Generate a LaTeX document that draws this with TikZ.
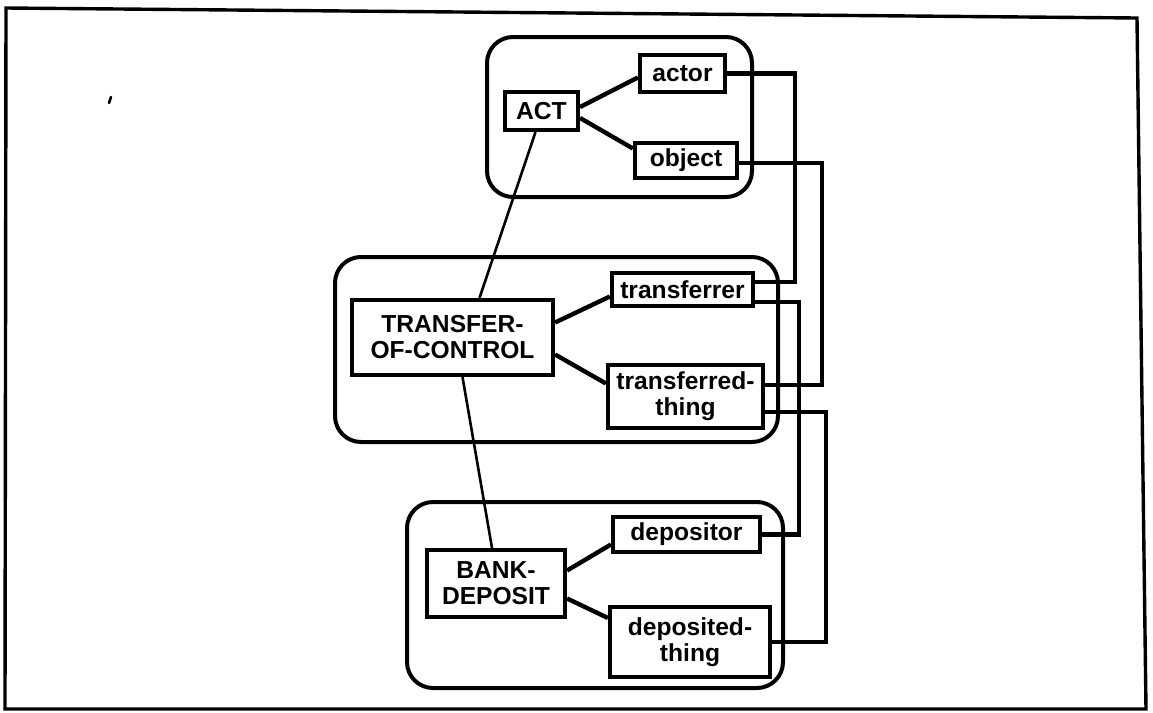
\documentclass[tikz,border=0pt]{standalone}
\usepackage{fontspec}
\setmainfont{Liberation Sans}
\usetikzlibrary{calc}
\begin{document}
\begin{tikzpicture}[x=0.5pt,y=-0.5pt,
  frameline/.style={line width=1.7pt,line join=miter},
  groupbox/.style={draw,line width=2pt,rounded corners=13pt},
  slotbox/.style={draw,line width=2.1pt,inner sep=0pt,align=center,
    font=\bfseries\fontsize{12.3}{13}\selectfont},
  link/.style={line width=2.2pt},
  isa/.style={line width=1.3pt},
  route/.style={line width=2.1pt,line join=miter}]
\useasboundingbox (0,0) rectangle (1153,713);

% outer frame
\draw[frameline] (6,8) -- (1137,18) -- (1146,709) -- (5,709) -- cycle;
\draw[line width=1.3pt,line cap=round] (109,103) -- (111,97);

% frame groups
\draw[groupbox] (487,37) rectangle (752,197);
\draw[groupbox] (335,257) rectangle (778,442);
\draw[groupbox] (407,502) rectangle (783,688);

% ACT frame
\node[slotbox,minimum width=36.5pt,minimum height=19pt] (act) at (541.5,111) {ACT};
\node[slotbox,minimum width=42.5pt,minimum height=18.5pt] (actor) at (682.5,73.5) {actor};
\node[slotbox,minimum width=51pt,minimum height=17.5pt] (object) at (686,160.5) {object};

% TRANSFER-OF-CONTROL frame
\node[slotbox,minimum width=100.5pt,minimum height=37.5pt] (toc) at (452.5,337.5) {TRANSFER-\\OF-CONTROL};
\node[slotbox,minimum width=70.5pt,minimum height=16.5pt] (transferrer) at (682.5,289.5) {transferrer};
\node[slotbox,minimum width=77.5pt,minimum height=31.5pt] (tthing) at (685.5,396.5) {transferred-\\thing};

% BANK-DEPOSIT frame
\node[slotbox,minimum width=69pt,minimum height=33.5pt] (bank) at (496,583.5) {BANK-\\DEPOSIT};
\node[slotbox,minimum width=73.5pt,minimum height=17.5pt] (depositor) at (686.5,534.5) {depositor};
\node[slotbox,minimum width=80pt,minimum height=35pt] (dthing) at (690,642) {deposited-\\thing};

% slot links
\draw[link] ($(act.east)+(0,-4)$) -- ($(actor.west)+(0,4)$);
\draw[link] ($(act.east)+(0,7)$) -- ($(object.west)+(0,-12)$);
\draw[link] ($(toc.east)+(0,-15)$) -- ($(transferrer.west)+(0,7)$);
\draw[link] ($(toc.east)+(0,17)$) -- ($(tthing.west)+(0,-13)$);
\draw[link] ($(bank.east)+(0,-13)$) -- ($(depositor.west)+(0,10)$);
\draw[link] ($(bank.east)+(0,15)$) -- ($(dthing.west)+(0,-24)$);

% specialisation links
\draw[isa] ($(act.south)+(-6,0)$) -- ($(toc.north)+(27,0)$);
\draw[isa] ($(toc.south)+(10,0)$) -- ($(bank.north)+(-4,0)$);

% slot correspondences
\draw[route] (actor.east) -- ++(68,0) |- ($(transferrer.east)+(0,-7.5)$);
\draw[route] ($(object.east)+(0,2.5)$) -- ++(83,0) |- ($(tthing.east)+(0,-11.5)$);
\draw[route] ($(transferrer.east)+(0,12.5)$) -- ++(44,0) |- (depositor.east);
\draw[route] ($(tthing.east)+(0,15.5)$) -- ++(61,0) |- (dthing.east);
\end{tikzpicture}
\end{document}
